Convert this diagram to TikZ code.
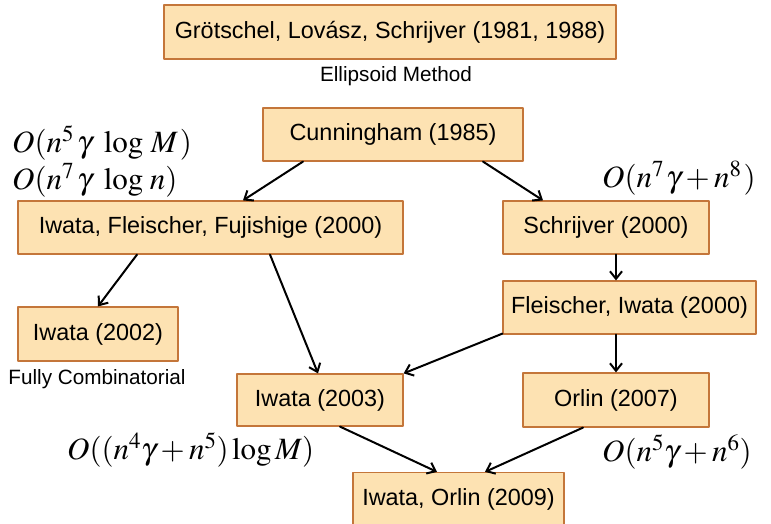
\documentclass[tikz,border=0pt]{standalone}
\usepackage{mathptmx}
\usepackage[no-math]{fontspec}
\setmainfont{Liberation Sans}
\usepackage{xcolor}
\usetikzlibrary{arrows.meta,calc}
\definecolor{boxfill}{RGB}{253,226,178}
\definecolor{boxline}{RGB}{196,118,58}

\begin{document}
\begin{tikzpicture}[x=1pt,y=-1pt,line cap=round,line join=round,
  box/.style={draw=boxline,fill=boxfill,line width=1.2pt,inner sep=0pt,
    font=\fontsize{23.4}{28}\selectfont},
  note/.style={inner sep=0pt,font=\fontsize{20.7}{24}\selectfont},
  cplx/.style={inner sep=0pt,anchor=west,font=\fontsize{31}{34}\selectfont},
  arr/.style={line width=2pt,-{Straight Barb[length=7.5pt,width=12pt,line width=2pt]}}]
\useasboundingbox (0,0) rectangle (771,524);
% boxes
\node[box,minimum width=452pt,minimum height=54pt] (gls) at (390,32) {Grötschel, Lovász, Schrijver (1981, 1988)};
\node[box,minimum width=260pt,minimum height=53pt] (cun) at (393,134.5) {Cunningham (1985)};
\node[box,minimum width=385pt,minimum height=53pt] (iff) at (210.5,227.5) {Iwata, Fleischer, Fujishige (2000)};
\node[box,minimum width=206pt,minimum height=53pt] (sch) at (606,227.5) {Schrijver (2000)};
\node[box,minimum width=253pt,minimum height=53pt] (fli) at (629.5,307.5) {Fleischer, Iwata (2000)};
\node[box,minimum width=160pt,minimum height=54pt] (iwa02) at (98,334) {Iwata (2002)};
\node[box,minimum width=166pt,minimum height=52pt] (iwa03) at (320,400) {Iwata (2003)};
\node[box,minimum width=186pt,minimum height=54pt] (orl) at (616,400) {Orlin (2007)};
\node[box,minimum width=211pt,minimum height=53pt] (io) at (458.5,499) {Iwata, Orlin (2009)};
% notes
\node[note] (ellip) at (396,76) {Ellipsoid Method};
\node[note] (fully) at (97,379) {Fully Combinatorial};
% running times
\node[cplx] (tIFFa) at (12,143) {$O(n^5\hspace{3pt}\gamma\hspace{8pt}\log\hspace{4pt}M\hspace{2pt})$};
\node[cplx] (tIFFb) at (12,180) {$O(n^7\hspace{3pt}\gamma\hspace{8pt}\log\hspace{3pt}n)$};
\node[cplx] (tSch) at (602,178) {$O(n^7\hspace{2pt}\gamma+n^8\hspace{2pt})$};
\node[cplx] (tIwa) at (67,450) {$O((n^4\gamma+n^5)\log M)$};
\node[cplx] (tOrl) at (602,452) {$O(n^5\gamma+n^6)$};
% arrows
\draw[arr] ([xshift=-90pt]cun.south) -- ([xshift=32.5pt]iff.north);
\draw[arr] ([xshift=90pt]cun.south) -- ([xshift=-63pt]sch.north);
\draw[arr] ([xshift=-73.5pt]iff.south) -- (iwa02.north);
\draw[arr] ([xshift=59.5pt]iff.south) -- ([xshift=-2pt]iwa03.north);
\draw[arr] ([xshift=10pt]sch.south) -- ([xshift=10pt]sch.south |- fli.north);
\draw[arr] ([yshift=1pt]fli.south west) -- (iwa03.north east);
\draw[arr] (orl.north |- fli.south) -- (orl.north);
\draw[arr] ([xshift=20pt]iwa03.south) -- ([xshift=-21.5pt]io.north);
\draw[arr] ([xshift=-33pt]orl.south) -- ([xshift=26.5pt]io.north);
\end{tikzpicture}
\end{document}
